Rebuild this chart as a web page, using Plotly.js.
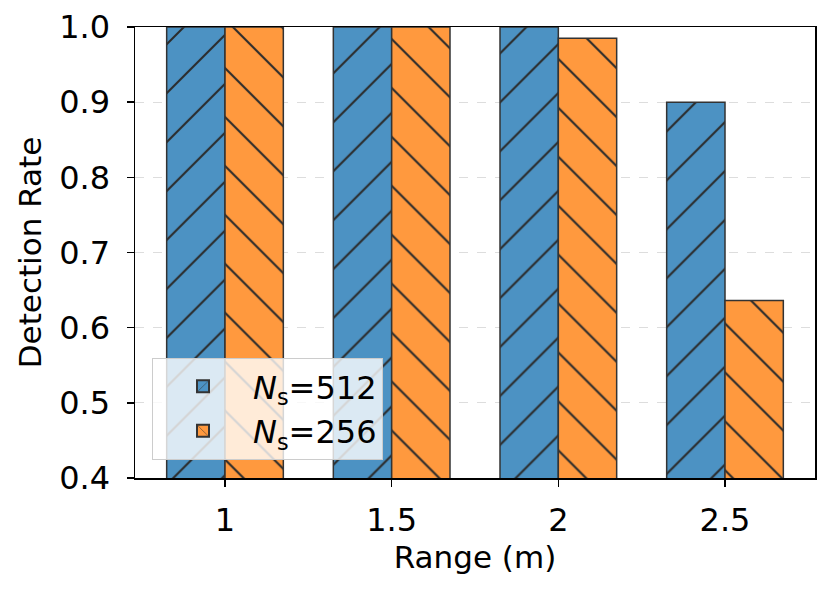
<!DOCTYPE html>
<html>
<head>
<meta charset="utf-8">
<script src="https://cdn.plot.ly/plotly-3.0.1.min.js"></script>
<style>body{margin:0;padding:0;background:#fff;}</style>
</head>
<body>
<div id="chart" style="width:830px;height:593px;"></div>
<script>
var ranges = ['1', '1.5', '2', '2.5'];
var rate512 = [1.0, 1.0, 1.0, 0.9];
var rate256 = [1.0, 1.0, 0.985, 0.636];
var tickVals = [0.4, 0.5, 0.6, 0.7, 0.8, 0.9, 1.0];

var fontFamily = 'DejaVu Sans, sans-serif';
var blue = 'rgb(76,146,195)';
var orange = 'rgb(255,153,62)';

var data = [{
    x: ranges,
    y: rate512,
    type: 'bar',
    name: '<i>N</i><sub>s</sub>=512',
    marker: {
        color: blue,
        line: {color: '#333333', width: 1.5},
        pattern: {shape: '/', size: 34.6, solidity: 0.06, fgcolor: '#2b2b2b', bgcolor: blue, fgopacity: 1}
    }
}, {
    x: ranges,
    y: rate256,
    type: 'bar',
    name: '<i>N</i><sub>s</sub>=256',
    marker: {
        color: orange,
        line: {color: '#333333', width: 1.5},
        pattern: {shape: '\\', size: 34.6, solidity: 0.06, fgcolor: '#2b2b2b', bgcolor: orange, fgopacity: 1}
    }
}];

var layout = {
    width: 830,
    height: 593,
    margin: {l: 135, r: 15, t: 27, b: 115},
    paper_bgcolor: '#ffffff',
    plot_bgcolor: '#ffffff',
    font: {family: fontFamily, size: 31, color: '#000'},
    barmode: 'group',
    bargap: 0.3,
    bargroupgap: 0,
    showlegend: true,
    legend: {
        x: 0.025, y: 0.04, xanchor: 'left', yanchor: 'bottom',
        bgcolor: 'rgba(255,255,255,0.8)',
        bordercolor: '#cccccc', borderwidth: 1,
        font: {family: fontFamily, size: 32, color: '#000'},
        itemsizing: 'constant', itemwidth: 90,
        tracegroupgap: 6
    },
    xaxis: {
        type: 'category',
        range: [-0.54, 3.54],
        automargin: false,
        title: {text: 'Range (m)', font: {size: 31}, standoff: 4},
        ticks: 'outside', ticklen: 7, tickwidth: 1.5, tickcolor: '#000',
        tickfont: {size: 32},
        ticklabelstandoff: 6,
        showline: true, linecolor: '#000', linewidth: 1.5, mirror: true,
        showgrid: false, zeroline: false
    },
    yaxis: {
        range: [0.4, 1.0],
        automargin: false,
        tickvals: tickVals,
        tickformat: '.1f',
        tickfont: {size: 32},
        ticklabelstandoff: 10,
        title: {text: 'Detection Rate', font: {size: 31}, standoff: 8},
        ticks: 'outside', ticklen: 7, tickwidth: 1.5, tickcolor: '#000',
        showline: true, linecolor: '#000', linewidth: 1.5, mirror: true,
        showgrid: true, gridcolor: '#dddddd', griddash: 'dash', gridwidth: 1,
        zeroline: false
    }
};

Plotly.newPlot('chart', data, layout, {staticPlot: true});
</script>
</body>
</html>
